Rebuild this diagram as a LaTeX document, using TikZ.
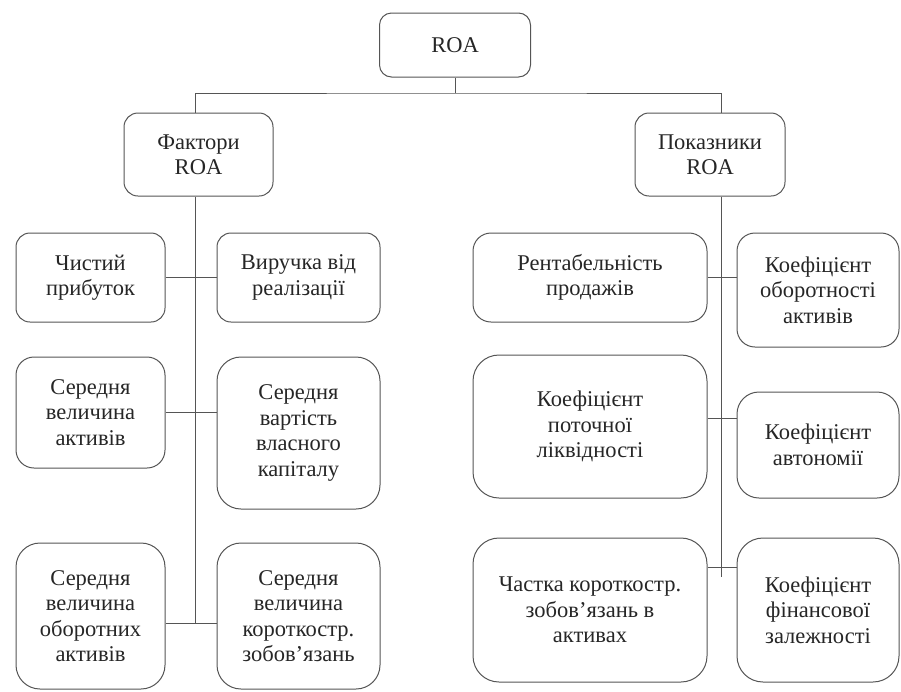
\documentclass[tikz,border=0pt]{standalone}
\usepackage{fontspec}
\setmainfont{Liberation Serif}
\usetikzlibrary{positioning}
\definecolor{inkgray}{HTML}{262626}
\definecolor{linegray}{HTML}{555555}
\tikzset{
    block/.style={draw=linegray, line width=1pt, rounded corners=#1, align=center,
        text=inkgray, inner sep=0pt, font=\fontsize{22.5}{25.5}\selectfont},
    block/.default=14pt,
    link/.style={draw=linegray, line width=0.9pt}
}
\begin{document}
\begin{tikzpicture}[x=1pt, y=-1pt]
    \useasboundingbox (0,0) rectangle (901,691);
    \def\lw{149pt}
    \def\mw{163pt}
    \def\ww{234pt}

    % Top level
    \node[block=12pt, minimum width=151pt, minimum height=64pt] (roa) at (455,45) {ROA};
    \node[block, minimum width=\lw, minimum height=83pt] (fact) at (198.5,154.5) {Фактори\\ROA};
    \node[block, minimum width=150pt, minimum height=83pt] (pok) at (710,154.5) {Показники\\ROA};

    % Spines and row heights
    \coordinate (lspine) at (195,0);
    \coordinate (rspine) at (721,0);
    \coordinate (bus) at (455,93);
    \coordinate (lrow) at (0,412);
    \coordinate (lend) at (0,623);
    \coordinate (rrow) at (0,418);
    \coordinate (rlow) at (0,567);
    \coordinate (rend) at (0,577);

    % Factors
    \node[block, minimum width=\lw, minimum height=89pt] (net) at (90.5,277.5) {Чистий\\прибуток};
    \node[block, minimum width=\mw, minimum height=89pt] (rev) at (298.5,277.5) {Виручка від\\реалізації};
    \node[block=18pt, minimum width=\lw, minimum height=111pt] (avgas) at (90.5,412.5) {Середня\\величина\\активів};
    \node[block=24pt, minimum width=\mw, minimum height=152pt] (avgeq) at (298.5,433) {Середня\\вартість\\власного\\капіталу};
    \node[block=24pt, minimum width=\lw, minimum height=146pt] (avgcur) at (90.5,616) {Середня\\величина\\оборотних\\активів};
    \node[block=24pt, minimum width=\mw, minimum height=146pt] (avgstl) at (298.5,616) {Середня\\величина\\короткостр.\\зобов’язань};

    % Indicators
    \node[block=18pt, minimum width=\ww, minimum height=89pt] (ros) at (590,277.5) {Рентабельність\\продажів};
    \node[block=18pt, minimum width=162pt, minimum height=114pt] (tat) at (818,290) {Коефіцієнт\\оборотності\\активів};
    \node[block=26pt, minimum width=\ww, minimum height=143pt] (liq) at (590,426.5) {Коефіцієнт\\поточної\\ліквідності};
    \node[block=22pt, minimum width=162pt, minimum height=106pt] (aut) at (818,445) {Коефіцієнт\\автономії};
    \node[block=26pt, minimum width=\ww, minimum height=144pt] (shr) at (590,610) {Частка короткостр.\\зобов’язань в\\активах};
    \node[block=26pt, minimum width=162pt, minimum height=144pt] (fin) at (818,610) {Коефіцієнт\\фінансової\\залежності};

    % Tree
    \draw[link] (roa.south) -- (bus);
    \draw[link] (lspine |- fact.north) |- (bus) -| (rspine |- pok.north);
    \draw[link] (lspine |- fact.south) -- (lspine |- lend);
    \draw[link] (rspine |- pok.south) -- (rspine |- rend);

    % Rows
    \draw[link] (net.east) -- (net.east -| rev.west);
    \draw[link] (avgas.east |- lrow) -- (avgeq.west |- lrow);
    \draw[link] (avgcur.east |- lend) -- (avgstl.west |- lend);
    \draw[link] (ros.east) -- (ros.east -| tat.west);
    \draw[link] (liq.east |- rrow) -- (aut.west |- rrow);
    \draw[link] (shr.east |- rlow) -- (fin.west |- rlow);
\end{tikzpicture}
\end{document}
